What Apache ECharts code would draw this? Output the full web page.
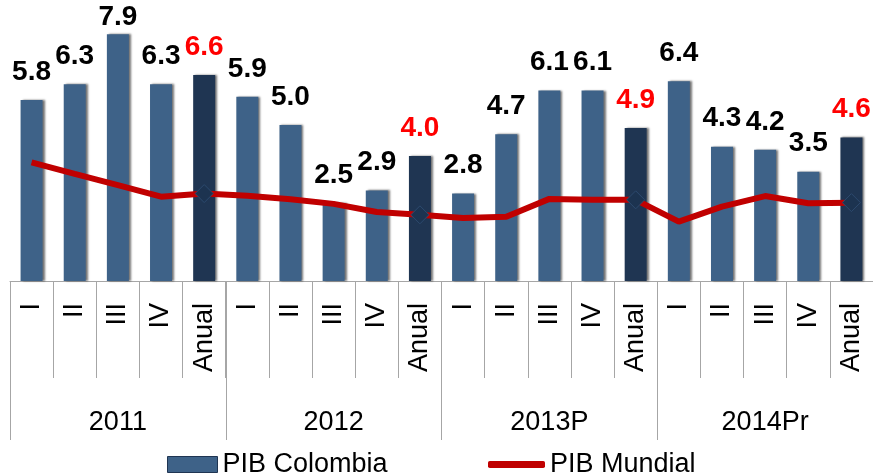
<!DOCTYPE html>
<html>
<head>
    <meta charset="utf-8" />
    <title>PIB Colombia vs PIB Mundial</title>
    <script src="https://cdn.jsdelivr.net/npm/echarts@6/dist/echarts.min.js"></script>
    <style>
        html, body { margin: 0; padding: 0; background: #fff; }
    </style>
</head>
<body>
    <div id="main" style="width:873px;height:475px;"></div>
    <script type="text/javascript">
        // categorias (trimestres + anual) y años
        var categories = ['I', 'II', 'III', 'IV', 'Anual',
                          'I', 'II', 'III', 'IV', 'Anual',
                          'I', 'II', 'III', 'IV', 'Anual',
                          'I', 'II', 'III', 'IV', 'Anual'];
        var years = ['2011', '2012', '2013P', '2014Pr'];
        var pibColombia = [5.8, 6.3, 7.9, 6.3, 6.6,
                           5.9, 5.0, 2.5, 2.9, 4.0,
                           2.8, 4.7, 6.1, 6.1, 4.9,
                           6.4, 4.3, 4.2, 3.5, 4.6];
        var pibMundial = [3.80, 3.43, 3.07, 2.70, 2.80,
                          2.73, 2.62, 2.47, 2.21, 2.12,
                          2.02, 2.06, 2.63, 2.60, 2.60,
                          1.90, 2.38, 2.72, 2.49, 2.51];

        var FONT = 'Liberation Sans';
        var QUARTER_COLOR = '#3e6288';
        var ANUAL_COLOR = '#1f3552';
        var GRID_GRAY = '#a6a6a6';

        var barData = pibColombia.map(function (v, i) {
            var anual = categories[i] === 'Anual';
            var item = {
                value: v,
                itemStyle: { color: anual ? ANUAL_COLOR : QUARTER_COLOR },
                label: { color: anual ? '#ff0000' : '#000000' }
            };
            if (i === 2) item.label.distance = 3;   // el 7.9 casi toca el borde superior
            return item;
        });

        // solo los puntos anuales llevan rombo
        var lineData = pibMundial.map(function (v, i) {
            if (categories[i] === 'Anual') return { value: v };
            return { value: v, symbol: 'none' };
        });

        var myChart = echarts.init(document.getElementById('main'));
        myChart.setOption({
            animation: false,
            grid: { left: 10, right: -1, top: 0, bottom: 194, containLabel: false },
            legend: [{
                data: ['PIB Colombia'],
                left: 162, top: 446,
                icon: 'rect', itemWidth: 50, itemHeight: 16,
                itemStyle: { color: QUARTER_COLOR, borderColor: ANUAL_COLOR, borderWidth: 1 },
                textStyle: { fontFamily: FONT, fontSize: 27, color: '#000' }
            }, {
                data: ['PIB Mundial'],
                left: 483, top: 446,
                icon: 'roundRect', itemWidth: 57, itemHeight: 7,
                itemStyle: { color: '#c00000', borderWidth: 0 },
                textStyle: { fontFamily: FONT, fontSize: 27, color: '#000' }
            }],
            xAxis: [{
                type: 'category',
                data: categories,
                position: 'bottom',
                axisLine: { lineStyle: { color: GRID_GRAY, width: 1 } },
                axisTick: { show: true, interval: 0, alignWithLabel: false, length: 97, lineStyle: { color: GRID_GRAY } },
                axisLabel: { rotate: 90, margin: 22, fontFamily: FONT, fontSize: 27, color: '#000', interval: 0 }
            }, {
                type: 'category',
                data: years,
                position: 'bottom',
                axisLine: { show: false },
                axisTick: { show: true, interval: 0, alignWithLabel: false, length: 159, lineStyle: { color: GRID_GRAY } },
                axisLabel: { margin: 128, fontFamily: FONT, fontSize: 27, color: '#000', interval: 0 }
            }],
            yAxis: {
                type: 'value',
                min: 0,
                max: 9,
                show: false,
                splitLine: { show: false }
            },
            series: [{
                name: 'PIB Colombia',
                type: 'bar',
                barWidth: 22,
                itemStyle: {
                    shadowColor: 'rgba(0,0,0,0.55)',
                    shadowBlur: 2,
                    shadowOffsetX: 2,
                    shadowOffsetY: 0
                },
                label: {
                    show: true,
                    position: 'top',
                    distance: 14,
                    fontFamily: FONT,
                    fontSize: 28,
                    fontWeight: 'bold',
                    formatter: function (p) { return p.value.toFixed(1); }
                },
                data: barData
            }, {
                name: 'PIB Mundial',
                type: 'line',
                symbol: 'diamond',
                symbolSize: 18,
                showSymbol: true,
                showAllSymbol: true,
                itemStyle: { color: '#1c3350', borderColor: '#2d4a6e', borderWidth: 1 },
                lineStyle: { color: '#c00000', width: 6 },
                z: 3,
                data: lineData
            }]
        });
    </script>
</body>
</html>
